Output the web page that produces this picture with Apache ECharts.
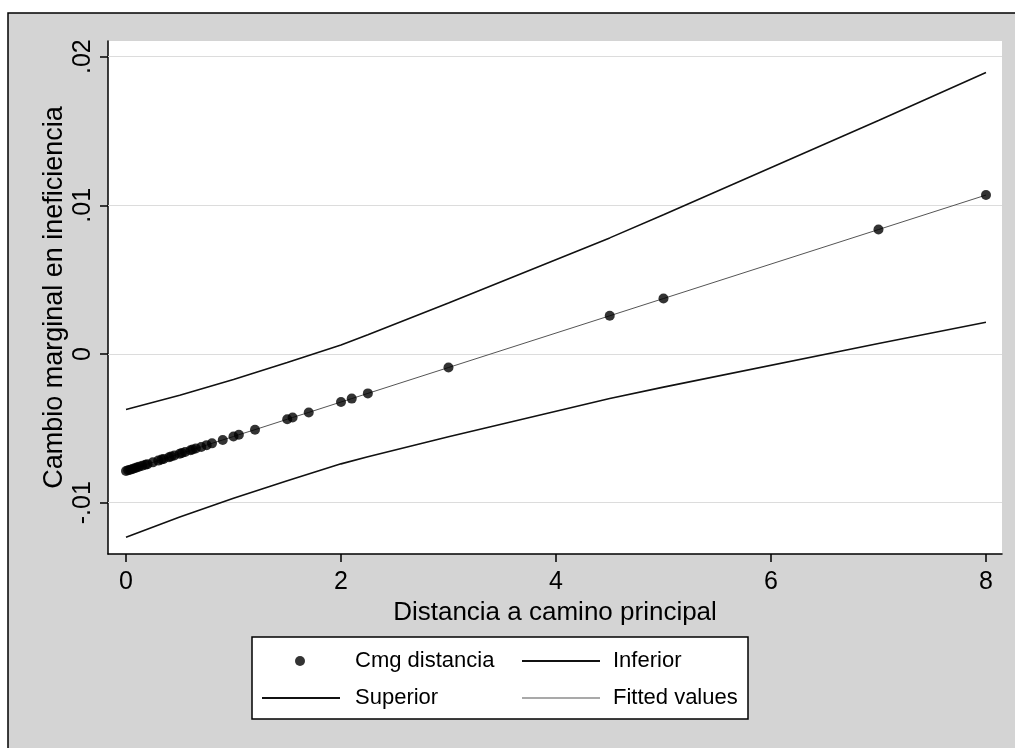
<!DOCTYPE html>
<html>
<head>
<meta charset="utf-8">
<script src="https://cdn.jsdelivr.net/npm/echarts@6/dist/echarts.min.js"></script>
<style>html,body{margin:0;padding:0;background:#fff;}#c{width:1015px;height:748px;}</style>
</head>
<body>
<div id="c"></div>
<script>
// Distance values of the observations
const xDist = [0, 0.02, 0.04, 0.06, 0.08, 0.1, 0.12, 0.15, 0.18, 0.2, 0.25, 0.3, 0.33, 0.35, 0.4, 0.42, 0.45, 0.5, 0.52, 0.55, 0.6, 0.62, 0.65, 0.7, 0.75, 0.8, 0.9, 1.0, 1.05, 1.2, 1.5, 1.55, 1.7, 2.0, 2.1, 2.25, 3, 4.5, 5, 7, 8];
// Marginal change in inefficiency (points)
const cmgVals = [-0.00787, -0.00782, -0.00778, -0.00773, -0.00768, -0.00764, -0.00759, -0.00752, -0.00745, -0.00741, -0.00729, -0.00717, -0.00710, -0.00706, -0.00694, -0.00690, -0.00683, -0.00671, -0.00666, -0.00659, -0.00648, -0.00643, -0.00636, -0.00625, -0.00613, -0.00601, -0.00578, -0.00555, -0.00543, -0.00509, -0.00439, -0.00427, -0.00393, -0.00323, -0.00300, -0.00265, -0.00091, 0.00257, 0.00373, 0.00837, 0.01069];
// Fitted values
const fittedVals = [-0.00787, -0.00782, -0.00778, -0.00773, -0.00768, -0.00764, -0.00759, -0.00752, -0.00745, -0.00741, -0.00729, -0.00717, -0.00710, -0.00706, -0.00694, -0.00690, -0.00683, -0.00671, -0.00666, -0.00659, -0.00648, -0.00643, -0.00636, -0.00625, -0.00613, -0.00601, -0.00578, -0.00555, -0.00543, -0.00509, -0.00439, -0.00427, -0.00393, -0.00323, -0.00300, -0.00265, -0.00091, 0.00257, 0.00373, 0.00837, 0.01069];
// Confidence bands
const bandX = [0, 0.5, 1, 1.5, 2, 2.25, 3, 4.5, 5, 7, 8];
const superiorVals = [-0.00373, -0.00277, -0.00171, -0.00057, 0.00061, 0.00129, 0.00343, 0.00781, 0.00937, 0.01571, 0.01893];
const inferiorVals = [-0.01233, -0.01097, -0.00971, -0.00853, -0.00739, -0.00691, -0.00557, -0.00299, -0.00223, 0.00071, 0.00213];
// Ticks
const xTicks = [0, 2, 4, 6, 8];
const xTickLabels = ['0', '2', '4', '6', '8'];
const yTicks = [-0.01, 0, 0.01, 0.02];
const yTickLabels = ['-.01', '0', '.01', '.02'];
const seriesNames = ['Cmg distancia', 'Inferior', 'Superior', 'Fitted values'];

const FONT = "'Liberation Sans', Arial, sans-serif";
const zip = (xs, ys) => xs.map((x, i) => [x, ys[i]]);
const labelFor = (ticks, labels) => v => {
  for (let i = 0; i < ticks.length; i++) if (Math.abs(ticks[i] - v) < 1e-9) return labels[i];
  return '';
};

const chart = echarts.init(document.getElementById('c'), null, {renderer: 'canvas'});
const baseText = {fontFamily: FONT, fontSize: 22, color: '#000'};
const mkLegend = (name, icon, left, top, w, h, pad) => ({
  orient: 'horizontal', padding: 0, itemWidth: w, itemHeight: h, selectedMode: false,
  left: left, top: top, data: [{name: name, icon: icon}],
  textStyle: Object.assign({}, baseText, {padding: [0, 0, 0, pad]})
});
chart.setOption({
  backgroundColor: '#d4d4d4',
  animation: false,
  graphic: [
    {type: 'rect', shape: {x: 0, y: 0, width: 1015, height: 13}, style: {fill: '#fff'}, silent: true},
    {type: 'rect', shape: {x: 0, y: 0, width: 8, height: 748}, style: {fill: '#fff'}, silent: true},
    {type: 'rect', shape: {x: 8, y: 13, width: 1020, height: 745}, style: {fill: 'none', stroke: '#000', lineWidth: 1.5}, silent: true},
    {type: 'rect', shape: {x: 252, y: 637, width: 496, height: 82}, style: {fill: '#fff', stroke: '#000', lineWidth: 1.5}, silent: true}
  ],
  grid: {left: 108, top: 41, right: 13, bottom: 194, show: true, backgroundColor: '#fff', borderWidth: 0, containLabel: false},
  xAxis: {
    type: 'value', min: -0.1674, max: 8.149,
    name: 'Distancia a camino principal', nameLocation: 'middle', nameGap: 46, nameMoveOverlap: false,
    nameTextStyle: {fontFamily: FONT, fontSize: 26, color: '#000'},
    axisLine: {show: true, onZero: false, lineStyle: {color: '#000', width: 1.5}},
    axisTick: {show: true, length: 8, customValues: xTicks, lineStyle: {color: '#000', width: 1.5}},
    axisLabel: {customValues: xTicks, formatter: labelFor(xTicks, xTickLabels), margin: 16, fontFamily: FONT, fontSize: 25, color: '#000'},
    splitLine: {show: false}
  },
  yAxis: {
    type: 'value', min: -0.013453, max: 0.021053,
    name: 'Cambio marginal en ineficiencia', nameLocation: 'middle', nameGap: 40, nameMoveOverlap: false,
    nameTextStyle: {fontFamily: FONT, fontSize: 27, color: '#000'},
    axisLine: {show: true, onZero: false, lineStyle: {color: '#000', width: 1.5}},
    axisTick: {show: true, length: 8, customValues: yTicks, lineStyle: {color: '#000', width: 1.5}},
    axisLabel: {customValues: yTicks, formatter: labelFor(yTicks, yTickLabels), rotate: 90, margin: 12, fontFamily: FONT, fontSize: 25, color: '#000'},
    splitLine: {show: false}
  },
  legend: [
    mkLegend(seriesNames[0], 'circle', 295, 650, 10, 10, 45),
    mkLegend(seriesNames[1], 'rect', 522, 650, 78, 2, 8),
    mkLegend(seriesNames[2], 'rect', 262, 687, 78, 2, 10),
    mkLegend(seriesNames[3], 'rect', 522, 687, 78, 1, 8)
  ],
  series: [
    {
      name: seriesNames[3], type: 'line', data: zip(xDist, fittedVals), symbol: 'none',
      lineStyle: {color: '#555', width: 1}, itemStyle: {color: '#555'}, z: 2,
      markLine: {
        silent: true, symbol: ['none', 'none'], label: {show: false},
        lineStyle: {color: '#dcdcdc', width: 1, type: 'solid'},
        data: yTicks.map(v => ({yAxis: v})), z: 1
      }
    },
    {name: seriesNames[1], type: 'line', data: zip(bandX, inferiorVals), symbol: 'none', lineStyle: {color: '#111', width: 1.6}, itemStyle: {color: '#111'}, z: 3},
    {name: seriesNames[2], type: 'line', data: zip(bandX, superiorVals), symbol: 'none', lineStyle: {color: '#111', width: 1.6}, itemStyle: {color: '#111'}, z: 3},
    {name: seriesNames[0], type: 'scatter', data: zip(xDist, cmgVals), symbol: 'circle', symbolSize: 10, itemStyle: {color: '#000'}, z: 5}
  ]
});
</script>
</body>
</html>
